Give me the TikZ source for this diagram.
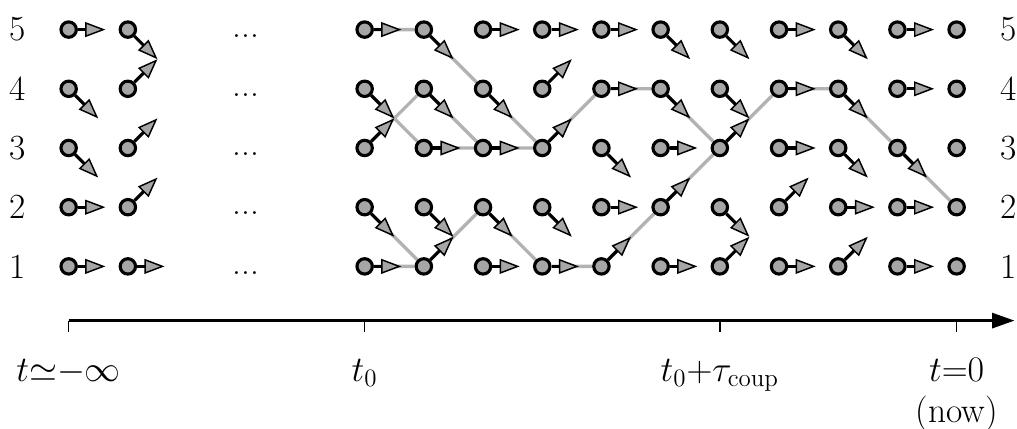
\documentclass[tikz,border=0pt]{standalone}
\usepackage{tikz}
\usetikzlibrary{arrows.meta,calc,backgrounds}
\definecolor{Ink}{HTML}{000000}
\definecolor{Stone}{HTML}{A6A6A6}
\definecolor{Trail}{HTML}{B2B2B2}
\tikzset{
  state/.style={
    circle, draw=Ink, line width=1.5pt, fill=Stone,
    minimum size=0.26cm, inner sep=0pt
  },
  move/.style={-{Triangle[length=3.4mm,width=2.5mm,fill=Stone,line width=0.7pt]}, line width=1.5pt, draw=Ink},
  trail/.style={line width=1.6pt, draw=Trail},
  axis/.style={-{Triangle[length=3.8mm,width=2.5mm]}, line width=1.6pt, draw=Ink},
  tick/.style={line width=0.8pt, draw=Ink},
  tag/.style={font=\fontsize{17}{21}\selectfont, inner sep=0pt}
}

\begin{document}
\begin{tikzpicture}
  \useasboundingbox (-6.16,-2.745) rectangle (11.02,4.50);
  % states
  \foreach \x [count=\col] in {-5,-4,0,1,2,3,4,5,6,7,8,9,10}
    \foreach \row in {1,...,5}
      \node[state] (s\col-\row) at (\x,\row-1) {};
  % coupled paths
  \begin{scope}[on background layer]
    \draw[trail] (s3-5) -- (s4-5) -- (s5-4) -- (s6-3) -- (s7-4) -- (s8-4) -- (s9-3) -- (s10-4) -- (s11-4) -- (s12-3) -- (s13-2);
    \draw[trail] (s3-4) -- (s4-3) -- (s5-3) -- (s6-3);
    \draw[trail] (s3-3) -- (s4-4) -- (s5-3);
    \draw[trail] (s3-2) -- (s4-1);
    \draw[trail] (s3-1) -- (s4-1) -- (s5-2) -- (s6-1) -- (s7-1) -- (s8-2) -- (s9-3);
  \end{scope}
  % moves: 0 right, -1 down, 1 up (rows 1..5)
  \foreach \col/\moves in {1/{0,0,-1,-1,0}, 2/{0,1,1,1,-1},
      3/{0,-1,1,-1,0}, 4/{1,-1,0,-1,-1}, 5/{0,-1,0,-1,0}, 6/{0,-1,1,1,0},
      7/{1,0,-1,0,0}, 8/{0,1,0,-1,-1}, 9/{1,-1,1,-1,-1}, 10/{0,1,0,0,0},
      11/{1,0,-1,-1,-1}, 12/{0,0,-1,0,0}}
    \foreach \dy [count=\row] in \moves {
      \pgfmathsetmacro\dx{\dy==0 ? 0.62 : 0.5}
      \coordinate (tip\col-\row) at ($(s\col-\row)+(\dx,0.5*\dy)$);
      \draw[move] (s\col-\row) -- (tip\col-\row);
    }
  % rows
  \foreach \row in {1,...,5} {
    \node[tag] (left\row) at (-5.86,\row-1) {\row};
    \node[tag] (right\row) at (10.875,\row-1) {\row};
    \node[tag,anchor=base] (dots\row) at (-2,\row-1.13) {...};
  }
  % time axis
  \coordinate (ax-start) at (-5,-0.916);
  \coordinate (ax-end) at (10.98,-0.916);
  \draw[axis] (ax-start) -- (ax-end);
  \foreach \x/\n in {-5/inf,0/zero,6/coup,10/now} {
    \coordinate (tk-\n) at (\x,-0.916);
    \draw[tick] (tk-\n) -- ++(0,-0.2);
  }
  \node[tag,anchor=base] (l-inf) at (-5,-1.945) {$t{\simeq}{-}\infty$};
  \node[tag,anchor=base] (l-zero) at (0,-1.945) {$t_0$};
  \node[tag,anchor=base] (l-coup) at (6,-1.945) {$t_0{+}\tau_{\rm coup}$};
  \node[tag,anchor=base] (l-now) at (10,-1.945) {$t{=}0$};
  \node[tag,anchor=base] (l-now2) at (10,-2.64) {(now)};
\end{tikzpicture}
\end{document}
